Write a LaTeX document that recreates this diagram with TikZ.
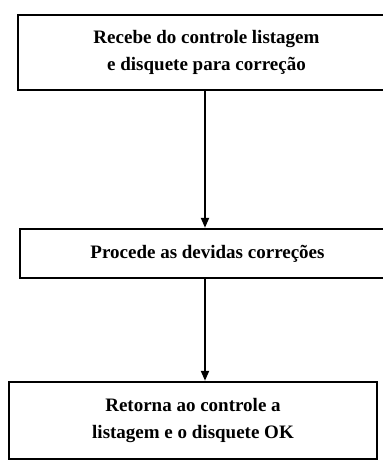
\documentclass[tikz,border=0pt]{standalone}
\usepackage{fontspec}
\setmainfont{Liberation Serif}
\usetikzlibrary{arrows.meta}
\begin{document}
\begin{tikzpicture}[x=1pt,y=-1pt,
  box/.style={draw,line width=2.4pt,rectangle,inner sep=0pt,align=center,
    font=\fontsize{19}{27}\selectfont\bfseries},
  arr/.style={line width=2pt,-{Triangle[length=10pt,width=8pt]}}]
\useasboundingbox (0,0) rectangle (383,461);
\clip (0,0) rectangle (383,461);
\node[box,minimum width=377pt,minimum height=75pt] (a) at (206.5,52.5)
  {Recebe do controle listagem\\e disquete para correção};
\node[box,minimum width=375pt,minimum height=49pt] (b) at (207.5,253.5)
  {Procede as devidas correções};
\node[box,minimum width=368pt,minimum height=77pt] (c) at (193,420.5)
  {Retorna ao controle a\\listagem e o disquete OK};
\coordinate (ax) at (205,0);
\draw[arr] (a.south -| ax) -- (b.north -| ax);
\draw[arr] (b.south -| ax) -- (c.north -| ax);
\end{tikzpicture}
\end{document}
